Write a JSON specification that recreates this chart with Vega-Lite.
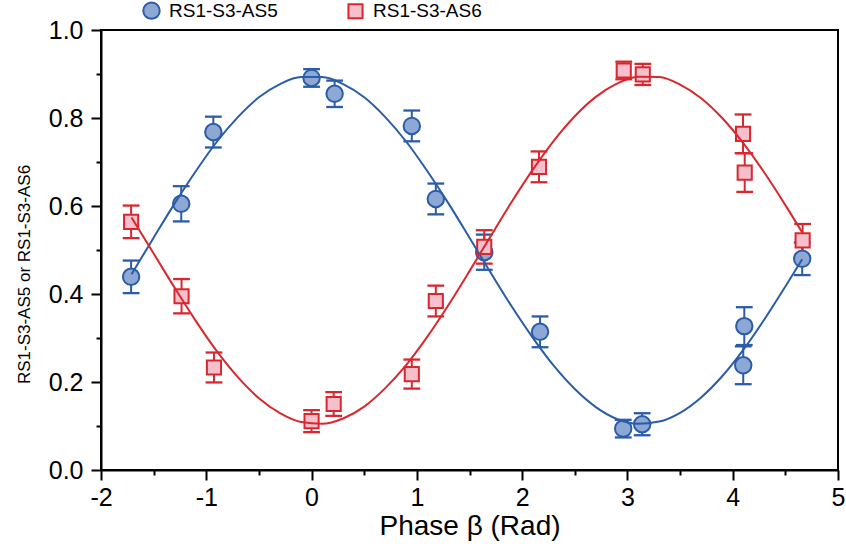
{
  "$schema": "https://vega.github.io/schema/vega-lite/v6.json",
  "width": 737,
  "height": 440,
  "autosize": {"type": "none"},
  "padding": {"left": 101, "top": 30, "right": 8, "bottom": 78},
  "background": "white",
  "config": {
    "font": "Liberation Sans",
    "view": {"stroke": "black", "strokeWidth": 2},
    "axis": {"grid": false, "domainColor": "black", "domainWidth": 2, "tickColor": "black", "tickWidth": 2, "labelColor": "black", "titleColor": "black", "labelFont": "Liberation Sans", "titleFont": "Liberation Sans", "titleFontWeight": "normal"},
    "legend": {"orient": "none", "legendX": 41, "legendY": -29, "direction": "horizontal", "padding": 0, "symbolStrokeWidth": 2, "symbolOpacity": 1, "labelFontSize": 19, "labelFont": "Liberation Sans", "labelColor": "black", "labelOffset": 8, "columnPadding": 66, "titlePadding": 0}
  },
  "datasets": {
    "pts": [
      {"x": -1.714, "y": 0.439, "err": 0.037, "series": "RS1-S3-AS5"},
      {"x": -1.238, "y": 0.605, "err": 0.040, "series": "RS1-S3-AS5"},
      {"x": -0.933, "y": 0.768, "err": 0.035, "series": "RS1-S3-AS5"},
      {"x": 0.0, "y": 0.891, "err": 0.020, "series": "RS1-S3-AS5"},
      {"x": 0.219, "y": 0.855, "err": 0.030, "series": "RS1-S3-AS5"},
      {"x": 0.952, "y": 0.782, "err": 0.035, "series": "RS1-S3-AS5"},
      {"x": 1.18, "y": 0.616, "err": 0.035, "series": "RS1-S3-AS5"},
      {"x": 1.64, "y": 0.495, "err": 0.040, "series": "RS1-S3-AS5"},
      {"x": 2.17, "y": 0.314, "err": 0.035, "series": "RS1-S3-AS5"},
      {"x": 2.96, "y": 0.094, "err": 0.020, "series": "RS1-S3-AS5"},
      {"x": 3.14, "y": 0.104, "err": 0.025, "series": "RS1-S3-AS5"},
      {"x": 4.11, "y": 0.327, "err": 0.043, "series": "RS1-S3-AS5"},
      {"x": 4.10, "y": 0.238, "err": 0.043, "series": "RS1-S3-AS5"},
      {"x": 4.66, "y": 0.480, "err": 0.037, "series": "RS1-S3-AS5"},
      {"x": -1.714, "y": 0.564, "err": 0.037, "series": "RS1-S3-AS6"},
      {"x": -1.235, "y": 0.395, "err": 0.039, "series": "RS1-S3-AS6"},
      {"x": -0.927, "y": 0.233, "err": 0.034, "series": "RS1-S3-AS6"},
      {"x": 0.0, "y": 0.111, "err": 0.025, "series": "RS1-S3-AS6"},
      {"x": 0.21, "y": 0.150, "err": 0.027, "series": "RS1-S3-AS6"},
      {"x": 0.952, "y": 0.218, "err": 0.033, "series": "RS1-S3-AS6"},
      {"x": 1.18, "y": 0.384, "err": 0.035, "series": "RS1-S3-AS6"},
      {"x": 1.64, "y": 0.507, "err": 0.038, "series": "RS1-S3-AS6"},
      {"x": 2.16, "y": 0.689, "err": 0.035, "series": "RS1-S3-AS6"},
      {"x": 2.965, "y": 0.908, "err": 0.020, "series": "RS1-S3-AS6"},
      {"x": 3.146, "y": 0.899, "err": 0.024, "series": "RS1-S3-AS6"},
      {"x": 4.098, "y": 0.764, "err": 0.044, "series": "RS1-S3-AS6"},
      {"x": 4.114, "y": 0.676, "err": 0.044, "series": "RS1-S3-AS6"},
      {"x": 4.664, "y": 0.522, "err": 0.037, "series": "RS1-S3-AS6"}
    ],
    "fit": [
      {"x": -1.71, "y": 0.445, "series": "RS1-S3-AS5"},
      {"x": -1.5, "y": 0.528, "series": "RS1-S3-AS5"},
      {"x": -1.3, "y": 0.606, "series": "RS1-S3-AS5"},
      {"x": -1.1, "y": 0.679, "series": "RS1-S3-AS5"},
      {"x": -0.9, "y": 0.746, "series": "RS1-S3-AS5"},
      {"x": -0.7, "y": 0.802, "series": "RS1-S3-AS5"},
      {"x": -0.5, "y": 0.847, "series": "RS1-S3-AS5"},
      {"x": -0.3, "y": 0.877, "series": "RS1-S3-AS5"},
      {"x": -0.1, "y": 0.893, "series": "RS1-S3-AS5"},
      {"x": 0.1, "y": 0.893, "series": "RS1-S3-AS5"},
      {"x": 0.3, "y": 0.877, "series": "RS1-S3-AS5"},
      {"x": 0.5, "y": 0.847, "series": "RS1-S3-AS5"},
      {"x": 0.7, "y": 0.802, "series": "RS1-S3-AS5"},
      {"x": 0.9, "y": 0.746, "series": "RS1-S3-AS5"},
      {"x": 1.1, "y": 0.679, "series": "RS1-S3-AS5"},
      {"x": 1.3, "y": 0.606, "series": "RS1-S3-AS5"},
      {"x": 1.5, "y": 0.528, "series": "RS1-S3-AS5"},
      {"x": 1.7, "y": 0.449, "series": "RS1-S3-AS5"},
      {"x": 1.9, "y": 0.372, "series": "RS1-S3-AS5"},
      {"x": 2.1, "y": 0.301, "series": "RS1-S3-AS5"},
      {"x": 2.3, "y": 0.237, "series": "RS1-S3-AS5"},
      {"x": 2.5, "y": 0.184, "series": "RS1-S3-AS5"},
      {"x": 2.7, "y": 0.143, "series": "RS1-S3-AS5"},
      {"x": 2.9, "y": 0.116, "series": "RS1-S3-AS5"},
      {"x": 3.1, "y": 0.105, "series": "RS1-S3-AS5"},
      {"x": 3.3, "y": 0.110, "series": "RS1-S3-AS5"},
      {"x": 3.5, "y": 0.130, "series": "RS1-S3-AS5"},
      {"x": 3.7, "y": 0.165, "series": "RS1-S3-AS5"},
      {"x": 3.9, "y": 0.213, "series": "RS1-S3-AS5"},
      {"x": 4.1, "y": 0.273, "series": "RS1-S3-AS5"},
      {"x": 4.3, "y": 0.342, "series": "RS1-S3-AS5"},
      {"x": 4.5, "y": 0.417, "series": "RS1-S3-AS5"},
      {"x": 4.66, "y": 0.479, "series": "RS1-S3-AS5"},
      {"x": -1.71, "y": 0.574, "series": "RS1-S3-AS6"},
      {"x": -1.5, "y": 0.492, "series": "RS1-S3-AS6"},
      {"x": -1.3, "y": 0.414, "series": "RS1-S3-AS6"},
      {"x": -1.1, "y": 0.339, "series": "RS1-S3-AS6"},
      {"x": -0.9, "y": 0.270, "series": "RS1-S3-AS6"},
      {"x": -0.7, "y": 0.211, "series": "RS1-S3-AS6"},
      {"x": -0.5, "y": 0.163, "series": "RS1-S3-AS6"},
      {"x": -0.3, "y": 0.129, "series": "RS1-S3-AS6"},
      {"x": -0.1, "y": 0.109, "series": "RS1-S3-AS6"},
      {"x": 0.1, "y": 0.105, "series": "RS1-S3-AS6"},
      {"x": 0.3, "y": 0.117, "series": "RS1-S3-AS6"},
      {"x": 0.5, "y": 0.144, "series": "RS1-S3-AS6"},
      {"x": 0.7, "y": 0.186, "series": "RS1-S3-AS6"},
      {"x": 0.9, "y": 0.239, "series": "RS1-S3-AS6"},
      {"x": 1.1, "y": 0.303, "series": "RS1-S3-AS6"},
      {"x": 1.3, "y": 0.375, "series": "RS1-S3-AS6"},
      {"x": 1.5, "y": 0.452, "series": "RS1-S3-AS6"},
      {"x": 1.7, "y": 0.531, "series": "RS1-S3-AS6"},
      {"x": 1.9, "y": 0.609, "series": "RS1-S3-AS6"},
      {"x": 2.1, "y": 0.682, "series": "RS1-S3-AS6"},
      {"x": 2.3, "y": 0.748, "series": "RS1-S3-AS6"},
      {"x": 2.5, "y": 0.804, "series": "RS1-S3-AS6"},
      {"x": 2.7, "y": 0.848, "series": "RS1-S3-AS6"},
      {"x": 2.9, "y": 0.878, "series": "RS1-S3-AS6"},
      {"x": 3.1, "y": 0.894, "series": "RS1-S3-AS6"},
      {"x": 3.3, "y": 0.893, "series": "RS1-S3-AS6"},
      {"x": 3.5, "y": 0.876, "series": "RS1-S3-AS6"},
      {"x": 3.7, "y": 0.845, "series": "RS1-S3-AS6"},
      {"x": 3.9, "y": 0.800, "series": "RS1-S3-AS6"},
      {"x": 4.1, "y": 0.743, "series": "RS1-S3-AS6"},
      {"x": 4.3, "y": 0.676, "series": "RS1-S3-AS6"},
      {"x": 4.5, "y": 0.602, "series": "RS1-S3-AS6"},
      {"x": 4.66, "y": 0.540, "series": "RS1-S3-AS6"}
    ]
  },
  "encoding": {
    "x": {
      "field": "x", "type": "quantitative",
      "scale": {"domain": [-2, 5], "nice": false, "zero": false},
      "axis": {
        "title": "Phase β (Rad)",
        "titleFontSize": 28, "titlePadding": 2,
        "labelFontSize": 25, "labelPadding": 5,
        "values": [-2, -1.5, -1, -0.5, 0, 0.5, 1, 1.5, 2, 2.5, 3, 3.5, 4, 4.5, 5],
        "labelExpr": "datum.value % 1 === 0 ? toString(datum.value) : ''",
        "tickSize": {"condition": {"test": "datum.value % 1 === 0", "value": 10}, "value": 5},
        "labelFlush": false, "labelOverlap": false
      }
    },
    "y": {
      "field": "y", "type": "quantitative",
      "scale": {"domain": [0, 1], "nice": false, "zero": false},
      "axis": {
        "title": "RS1-S3-AS5 or RS1-S3-AS6",
        "titleFontSize": 17, "titlePadding": 15, "titleY": 244,
        "labelFontSize": 25, "labelPadding": 8,
        "values": [0, 0.1, 0.2, 0.3, 0.4, 0.5, 0.6, 0.7, 0.8, 0.9, 1.0],
        "labelExpr": "round(datum.value * 10) % 2 === 0 ? format(datum.value, '.1f') : ''",
        "tickSize": {"condition": {"test": "round(datum.value * 10) % 2 === 0", "value": 10}, "value": 5},
        "labelFlush": false, "labelOverlap": false
      }
    },
    "stroke": {"field": "series", "type": "nominal", "title": null,
      "scale": {"domain": ["RS1-S3-AS5", "RS1-S3-AS6"], "range": ["#2b5ca8", "#d8282f"]}}
  },
  "layer": [
    {
      "data": {"name": "pts"},
      "mark": {"type": "errorbar", "ticks": {"size": 15, "thickness": 0.5, "fillOpacity": 0, "strokeWidth": 1.8, "opacity": 1}, "size": 15, "thickness": 2},
      "encoding": {
        "yError": {"field": "err"}
      }
    },
    {
      "data": {"name": "pts"},
      "mark": {"type": "point", "filled": true, "strokeWidth": 2, "opacity": 1, "fillOpacity": 1},
      "encoding": {
        "shape": {"field": "series", "type": "nominal", "title": null,
          "scale": {"domain": ["RS1-S3-AS5", "RS1-S3-AS6"], "range": ["circle", "square"]}},
        "color": {"field": "series", "type": "nominal", "title": null,
          "scale": {"domain": ["RS1-S3-AS5", "RS1-S3-AS6"], "range": ["#8da8d5", "#f5bfcc"]}},
        "size": {"field": "series", "type": "nominal", "title": null,
          "scale": {"domain": ["RS1-S3-AS5", "RS1-S3-AS6"], "range": [270, 200]}}
      }
    },
    {
      "data": {"name": "fit"},
      "mark": {"type": "line", "strokeWidth": 2, "interpolate": "monotone"}
    }
  ]
}
